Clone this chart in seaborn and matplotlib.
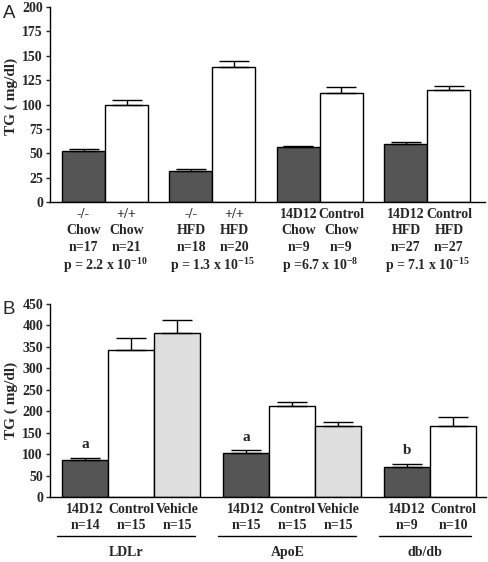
import numpy as np
import pandas as pd
import matplotlib
matplotlib.use("Agg")
import matplotlib.pyplot as plt
import seaborn as sns

# ---------------- data ----------------
# Panel A
a_labels = ["-/-\nChow\nn=17", "+/+\nChow\nn=21",
            "-/-\nHFD\nn=18", "+/+\nHFD\nn=20",
            "14D12\nChow\nn=9", "Control\nChow\nn=9",
            "14D12\nHFD\nn=27", "Control\nHFD\nn=27"]
a_values = [52, 100, 32, 138, 56, 112, 59, 115]
a_errors = [2, 5, 2, 7, 1, 6, 3, 4]
a_types = ["treated", "control"] * 4
a_pvalues = [r"p = 2.2 x 10$^{-10}$", r"p = 1.3 x 10$^{-15}$",
             r"p =6.7 x 10$^{-8}$", r"p = 7.1 x 10$^{-15}$"]
a_yticks = [0, 25, 50, 75, 100, 125, 150, 175, 200]

# Panel B
b_labels = ["14D12\nn=14", "Control\nn=15", "Vehicle\nn=15",
            "14D12\nn=15", "Control\nn=15", "Vehicle\nn=15",
            "14D12\nn=9", "Control\nn=10"]
b_values = [86, 343, 383, 102, 212, 166, 71, 166]
b_errors = [6, 28, 29, 7, 9, 8, 7, 20]
b_types = ["treated", "control", "vehicle",
           "treated", "control", "vehicle",
           "treated", "control"]
b_groups = ["LDLr", "ApoE", "db/db"]
b_group_sizes = [3, 3, 2]
b_letters = {0: "a", 3: "a", 6: "b"}
b_yticks = [0, 50, 100, 150, 200, 250, 300, 350, 400, 450]

palette = {"treated": "#555555", "control": "#ffffff", "vehicle": "#dedede"}

# ---------------- style ----------------
sns.set_style("ticks")
plt.rcParams["font.family"] = ["Liberation Serif", "DejaVu Serif"]
plt.rcParams["font.weight"] = "bold"
plt.rcParams["mathtext.fontset"] = "custom"
plt.rcParams["mathtext.rm"] = "Liberation Serif:bold"
plt.rcParams["mathtext.it"] = "Liberation Serif:bold"
plt.rcParams["mathtext.bf"] = "Liberation Serif:bold"

FS = 10
fig = plt.figure(figsize=(4.88, 5.62), dpi=100)

def positions(sizes, step):
    pos = []
    for g, n in enumerate(sizes):
        for j in range(n):
            pos.append(g * step + j)
    return pos

def draw(ax, pos, values, errors, types, labels, yticks, ymax, ylab_y):
    df = pd.DataFrame({"pos": pos, "val": values, "type": types})
    sns.barplot(data=df, x="pos", y="val", hue="type", palette=palette,
                native_scale=True, dodge=False, width=1.0, legend=False,
                edgecolor="black", linewidth=1.0, errorbar=None, ax=ax,
                zorder=2)
    ax.errorbar(pos, values, yerr=[np.zeros(len(errors)), errors],
                fmt="none", ecolor="black", elinewidth=1.0, capsize=10.5,
                capthick=1.0, zorder=3)
    ax.set_ylim(0, ymax)
    ax.set_yticks(yticks)
    ax.set_yticklabels([str(t) for t in yticks], fontsize=FS, fontweight="bold")
    ax.set_xticks(pos)
    ax.set_xticklabels(labels, fontsize=FS, fontweight="bold", linespacing=1.35)
    ax.tick_params(axis="x", length=0, pad=4)
    ax.tick_params(axis="y", length=3, width=1, pad=2, direction="out")
    ax.set_xlabel("")
    ax.set_ylabel("TG ( mg/dl)", fontsize=11, fontweight="bold")
    ax.yaxis.set_label_coords(-0.074, ylab_y)
    for s in ["top", "right"]:
        ax.spines[s].set_visible(False)
    for s in ["left", "bottom"]:
        ax.spines[s].set_linewidth(1.0)
        ax.spines[s].set_color("black")

# Panel A
axA = fig.add_axes([50 / 488, 1 - 202 / 562, 435 / 488, 195 / 562])
posA = positions([2, 2, 2, 2], 2.5)
draw(axA, posA, a_values, a_errors, a_types, a_labels, a_yticks, 200, 0.54)
axA.set_xlim(-0.78, 9.34)
for g, ptxt in enumerate(a_pvalues):
    cx = (posA[2 * g] + posA[2 * g + 1]) / 2
    axA.text(cx, -0.35, ptxt, transform=axA.get_xaxis_transform(),
             ha="center", va="baseline", fontsize=FS, fontweight="bold")
fig.text(3 / 488, 1 - 14 / 562, "A", family="Liberation Sans",
         fontsize=13.5, fontweight="normal", va="center", ha="left")

# Panel B
axB = fig.add_axes([50 / 488, 1 - 497 / 562, 436 / 488, 193 / 562])
posB = positions(b_group_sizes, 3.5)
draw(axB, posB, b_values, b_errors, b_types, b_labels, b_yticks, 450, 0.5)
axB.set_xlim(-0.76, 8.72)
for i, letter in b_letters.items():
    axB.text(posB[i], b_values[i] + b_errors[i] + 15, letter,
             ha="center", va="bottom", fontsize=FS + 1, fontweight="bold")
start = 0
tr = axB.get_xaxis_transform()
for gname, n in zip(b_groups, b_group_sizes):
    x0 = posB[start] - 0.6
    x1 = posB[start + n - 1] + 0.4
    axB.plot([x0, x1], [-0.2, -0.2], color="black", lw=1.0,
             transform=tr, clip_on=False)
    axB.text((x0 + x1) / 2, -0.29, gname, transform=tr, ha="center",
             va="center", fontsize=FS, fontweight="bold")
    start += n
fig.text(3 / 488, 1 - 310 / 562, "B", family="Liberation Sans",
         fontsize=13.5, fontweight="normal", va="center", ha="left")

fig.savefig("out.png", dpi=100)
